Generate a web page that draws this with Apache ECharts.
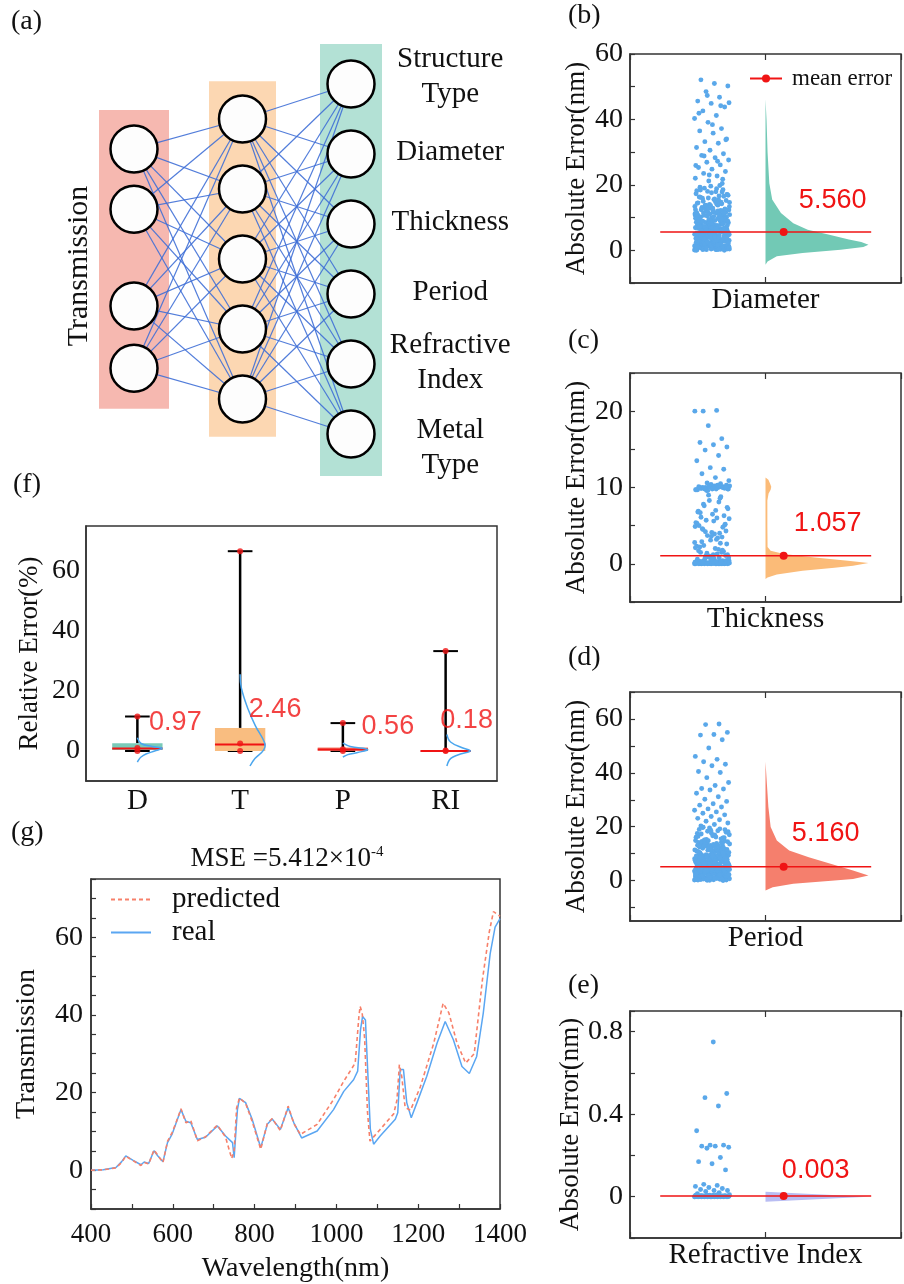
<!DOCTYPE html>
<html>
<head>
<meta charset="utf-8">
<script src="https://cdn.jsdelivr.net/npm/echarts@6/dist/echarts.min.js"></script>
<style>html,body{margin:0;padding:0;background:#fff}#main{width:904px;height:1284px}</style>
</head>
<body>
<div id="main"></div>
<script>
// ---------- data ----------
// (a) network layout, in layer / slot units
const inputSlots = [0.93, 1.79, 3.17, 4.06];
const hiddenSlots = [0.5, 1.5, 2.5, 3.5, 4.5];
const outputSlots = [0, 1, 2, 3, 4, 5];
const outputNames = ['Structure\nType', 'Diameter', 'Thickness', 'Period', 'Refractive\nIndex', 'Metal\nType'];
const layerBands = [[0.37, 4.64], [-0.04, 5.04], [-0.57, 5.6]];

// (b)-(e) absolute errors
const diameterErr = [
0.1,0.3,0.2,0.6,0.4,0.9,0.7,1.2,0.5,1.5,0.8,1.1,1.8,0.2,2.1,1.4,0.9,2.4,1.7,0.3,2.7,1.0,2.0,0.6,2.9,1.3,0.1,2.2,1.6,0.4,2.6,1.9,0.7,2.3,1.1,2.8,0.5,1.4,2.5,0.8,1.8,0.2,2.0,1.2,2.7,0.9,1.5,2.4,0.3,1.7,2.9,0.6,1.0,2.2,1.3,0.4,2.6,1.9,0.0,1.6,
3.1,4.5,3.6,5.8,4.0,6.4,3.3,5.1,6.9,4.2,3.8,5.5,6.1,4.8,3.0,6.7,5.3,4.4,3.5,5.9,6.3,4.7,3.2,5.0,6.6,4.1,3.9,5.6,6.0,4.9,3.4,5.2,6.8,4.3,3.7,5.7,6.2,4.6,3.1,5.4,6.5,4.0,3.6,5.8,6.9,4.8,3.3,5.1,6.4,4.5,3.0,5.5,6.1,4.2,3.8,5.3,6.7,4.4,3.5,5.0,
7.2,9.5,8.1,10.8,7.6,11.4,8.8,9.9,7.0,10.3,11.9,8.4,9.1,7.8,10.6,11.1,8.6,9.7,7.3,10.1,11.6,8.2,9.3,7.5,10.9,11.3,8.9,9.6,7.1,10.4,11.8,8.5,9.0,7.7,10.2,11.0,8.3,9.8,7.4,10.7,11.5,8.7,9.4,7.9,10.5,
12.3,14.8,13.1,16.5,12.8,18.2,15.4,13.7,17.1,12.1,19.3,14.2,16.0,13.4,18.8,15.0,12.6,17.6,14.5,19.8,13.0,16.8,15.7,12.4,18.5,14.0,17.3,13.8,19.0,15.2,12.9,16.3,14.7,18.0,13.3,17.9,15.9,12.2,19.6,14.4,16.6,13.6,17.0,15.5,18.4,
20.4,21.2,22.0,22.7,23.5,24.1,24.8,25.3,26.1,26.9,27.6,28.3,29.0,29.5,30.6,31.4,32.7,33.2,34.0,35.8,36.5,37.2,39.1,40.3,41.2,42.6,43.8,44.9,45.6,46.8,48.5,50.2,51.0,52.1,21.7,23.0,25.9,27.2,28.8,33.8,38.4,41.9,44.2,47.3,45.1,
0.4,1.7,3.3,5.2,7.4,9.8,12.6,0.9,2.2,4.1,6.3,8.5,11.2,14.1,1.3,2.8,4.9,6.8,9.1,13.3,0.6,2.5,3.8,5.7,7.9,10.4,12.0,1.9,3.5,5.4,7.1,8.8,11.7,14.6,0.2,2.0,4.4,6.0,8.2,10.9,13.8,1.5,3.0,4.7,6.5,9.4,12.4,0.8,2.4,4.0,
5.9,7.7,10.1,13.0,1.1,2.7,4.6,6.2,8.9,11.5,0.3,1.8,3.6,5.5,7.3,9.6,12.9,1.4,3.1,5.0,6.7,8.3,10.7,14.3,0.7,2.3,4.3,6.1,8.0,11.0,0.0,1.6,3.4,5.3,7.0,9.2,12.2,2.6,4.8,6.6,8.7,11.4,13.6,1.0,3.9,5.8,7.6,10.3,16.2,17.8
];
const thicknessErr = [
0.0,0.1,0.05,0.2,0.0,0.15,0.3,0.1,0.0,0.25,0.05,0.4,0.1,0.0,0.2,0.35,0.05,0.15,0.0,0.3,0.1,0.45,0.0,0.2,0.05,0.1,0.25,0.0,0.15,0.4,0.05,0.3,0.0,0.1,0.2,0.0,0.35,0.15,0.05,0.25,0.0,0.1,0.45,0.2,0.0,0.3,0.05,0.15,0.1,0.0,0.4,0.2,0.05,0.25,0.0,0.1,0.3,0.15,0.0,0.35,
0.6,0.8,1.0,1.2,0.7,1.5,1.8,0.9,2.1,1.3,2.4,1.1,0.6,1.7,2.7,1.4,0.8,2.0,2.9,1.6,1.0,2.3,1.9,0.7,2.6,1.2,2.2,1.5,0.9,2.8,
3.2,4.5,5.1,3.6,6.8,4.0,5.7,7.2,3.9,6.1,4.8,8.3,5.4,3.4,7.6,4.3,6.5,5.0,8.8,3.7,5.9,7.0,4.6,6.3,3.1,5.3,8.1,4.2,7.4,5.6,6.7,3.5,9.0,4.9,6.0,7.8,5.2,4.1,6.9,8.6,
9.6,9.8,10.0,9.9,10.1,10.2,9.7,10.0,9.8,10.3,9.9,10.0,10.1,9.6,10.2,9.8,10.0,9.9,10.4,9.7,10.1,10.0,9.8,10.2,9.9,10.0,10.1,9.7,10.3,9.9,10.0,9.8,10.1,10.5,10.6,
10.9,11.3,11.8,12.4,12.6,13.5,14.2,14.9,15.3,15.6,15.9,16.4,18.1,20.0,20.1,20.0
];
const periodErr = [
0.2,2.4,4.1,1.1,3.6,0.7,2.9,4.7,1.5,3.2,0.4,2.1,4.4,1.8,3.9,0.9,2.6,4.9,1.3,3.4,0.1,2.2,4.3,1.7,3.7,0.6,2.8,4.6,1.0,3.1,0.3,2.5,4.0,1.4,3.8,0.8,2.0,4.8,1.6,3.3,
0.5,2.7,4.2,1.2,3.5,0.0,2.3,4.5,1.9,3.0,0.2,2.6,4.1,1.1,3.7,0.7,2.9,4.6,1.5,3.3,0.4,2.0,4.4,1.8,3.9,0.9,2.4,4.8,1.3,3.5,0.6,2.8,4.2,1.0,3.1,0.3,2.2,4.7,1.6,3.6,
5.2,7.8,9.4,6.1,8.6,5.7,9.9,6.9,7.3,8.1,5.4,9.1,6.5,7.6,8.9,5.9,9.6,6.3,7.1,8.4,5.1,9.3,6.7,7.9,8.2,5.6,9.8,6.0,7.4,8.7,
5.3,9.0,6.4,7.7,8.0,5.8,9.5,6.8,7.2,8.5,5.5,9.2,6.2,7.5,8.8,5.0,9.7,6.6,7.0,8.3,5.2,9.4,6.9,7.8,8.6,5.7,9.1,6.1,7.3,8.9,
10.2,12.5,14.1,11.3,13.6,10.8,12.0,14.7,11.7,13.1,10.5,12.8,14.4,11.0,13.9,10.1,12.2,14.9,11.5,13.3,10.7,12.6,14.2,11.9,13.7,10.4,12.4,14.5,11.2,13.0,10.9,12.9,14.0,11.6,13.4,10.3,12.1,14.8,11.4,13.8,
19.8,18.9,17.6,16.4,19.2,15.3,18.1,16.9,17.3,15.8,19.5,16.1,18.5,15.1,17.9,16.6,19.0,15.5,18.3,17.0,16.2,19.7,15.9,18.7,17.5,
58.1,57.9,55.0,54.2,54.0,52.3,49.2,46.1,45.0,44.1,43.2,42.6,40.5,40.1,38.2,36.4,35.3,34.2,34.0,33.6,32.4,31.1,30.2,29.4,28.5,28.0,27.3,26.6,26.1,25.5,25.0,24.4,23.8,23.1,22.6,22.0,21.4,20.8,20.3,
0.3,1.6,3.2,4.9,6.6,8.4,10.6,0.8,2.3,3.9,5.6,7.3,9.1,11.8,1.2,2.8,4.4,6.0,7.9,9.9,13.1,0.5,2.0,3.6,5.2,6.9,8.7,10.9,1.5,3.0,4.7,6.3,8.1,9.6,12.4,0.1,1.8,3.4,5.0,6.7,8.5,10.2,0.9,2.5,4.1,5.8,7.5,9.3,11.4,1.3,
2.9,4.6,6.2,7.7,9.0,13.6,0.6,2.2,3.8,5.5,7.1,8.9,10.7,1.0,2.6,4.3,5.9,7.6,9.5,12.0,0.4,1.9,3.5,5.1,6.8,8.2,11.1,1.7,3.3,4.8,6.4,8.0,9.8,0.2,2.1,3.7,5.4,7.2,8.6,10.4,1.1,2.7,4.5,6.1,7.4,9.2,12.8
];
const riErr = [
0.000,0.002,0.001,0.004,0.000,0.003,0.006,0.001,0.002,0.000,0.005,0.003,0.001,0.008,0.000,0.002,0.004,0.001,0.003,0.000,0.007,0.002,0.001,0.005,0.000,0.003,0.002,0.001,0.004,0.000,
0.006,0.002,0.001,0.003,0.000,0.009,0.002,0.004,0.001,0.000,0.003,0.005,0.001,0.002,0.000,0.004,0.007,0.001,0.003,0.000,0.002,0.006,0.001,0.004,0.000,0.010,0.003,0.001,0.002,0.000,
0.015,0.02,0.025,0.03,0.03,0.035,0.04,0.045,0.05,0.055,0.06,0.13,0.16,0.17,0.19,0.235,0.24,0.245,0.245,0.25,0.25,0.32,0.44,0.48,0.50,0.75
];
const meanErr = [5.560, 1.057, 5.160, 0.003];

// half-violin outlines: error level -> relative density
const diamViolinY = [-4.4,-3.4,-1.8,-0.8,0.2,1.0,1.7,2.5,3.3,4.8,6.3,8.3,11.4,15.5,20.5,30,40,46.2];
const diamViolinW = [0,0.02,0.11,0.36,0.73,0.95,1.0,0.93,0.81,0.61,0.41,0.27,0.15,0.065,0.037,0.02,0.01,0];
const thickViolinY = [-2.0,-1.8,-1.4,-0.9,-0.5,-0.26,0.1,0.4,0.84,1.3,1.7,2.2,5,8.3,9.2,9.7,10.1,10.5,11.0,11.3];
const thickViolinW = [0,0.02,0.11,0.36,0.67,0.85,1.0,0.8,0.48,0.18,0.05,0.02,0.018,0.018,0.03,0.05,0.056,0.045,0.028,0];
const periodViolinY = [-3.7,-2.5,-1.2,0,0.6,1.9,3.7,6.2,8.7,11.2,14.9,19.9,27.3,35,44.1];
const periodViolinW = [0,0.07,0.27,0.67,0.85,1.0,0.85,0.64,0.42,0.23,0.11,0.05,0.028,0.015,0];
const riViolinY = [-0.024,-0.012,0,0.012,0.024];
const riViolinW = [0,0.5,1,0.5,0];

// (f) relative error statistics
const fCats = ['D', 'T', 'P', 'RI'];
const fMin = [0, 0, 0, 0];
const fQ1 = [0.3, 0, 0.1, 0];
const fMed = [0.8, 2.2, 0.5, 0];
const fQ3 = [2.6, 7.7, 1.2, 0.1];
const fMax = [11.5, 66.6, 9.3, 33.3];
const fMean = [0.97, 2.46, 0.56, 0.18];
const fDensY = [[4.4,2.5,1.5,0.9,0,-1,-2,-3,-3.7], [25.6,21,14,8.4,2.6,0.3,-2.5,-5], [2.6,1.5,0.5,-0.5,-1.2,-2], [5.5,3,1,0,-1,-2,-3,-5]];
const fDensW = [[0,0.15,0.6,1,0.7,0.35,0.15,0.05,0], [0,0.05,0.32,0.62,1,0.95,0.6,0.4], [0,0.3,1,0.6,0.2,0], [0.05,0.2,0.7,1,0.6,0.3,0.15,0.05]];

// (g) spectra
const realWl = [400,430,461,475,485,502,522,530,541,554,563,576,587,598,607,620,632,644,660,680,709,729,746,750,758,763,778,794,815,831,843,863,882,896,915,953,993,1018,1042,1052,1059,1064,1071,1075,1083,1091,1107,1144,1150,1156,1164,1172,1183,1197,1221,1246,1266,1286,1307,1325,1343,1359,1376,1388,1400];
const realT = [0,0.1,0.7,2.2,3.7,2.6,1.4,2.1,1.7,5.0,3.7,2.2,7.1,9.2,11.8,15.6,12.6,12.2,7.9,8.5,11.4,8.8,7.1,3.2,15.6,18.5,17.4,13.1,5.8,11.8,13.2,10.5,16.1,12.2,8.3,10.1,15.6,20.3,23.3,25.5,36.2,39.6,38.7,29.3,10.5,6.7,8.8,13.1,14.8,25.9,25.9,17.4,13.5,17.4,24.2,32.7,38.3,33.6,26.7,24.9,29.3,40.4,55.8,62.6,64.8];
const predWl = [400,430,461,475,485,502,522,530,541,554,563,576,587,598,607,620,632,644,660,680,709,729,744,750,756,763,778,794,815,831,843,863,882,896,912,953,993,1018,1046,1055,1058,1063,1069,1076,1082,1107,1140,1148,1154,1160,1168,1181,1205,1238,1261,1275,1295,1316,1337,1357,1374,1384,1400];
const predT = [0,0.1,0.6,2.0,3.6,2.5,1.2,2.0,1.6,5.2,3.9,2.0,7.4,9.6,12.0,15.8,12.2,12.8,7.6,8.6,11.6,8.5,3.0,5.0,16.0,18.6,17.2,12.6,5.4,12.0,13.3,10.2,16.5,12.0,9.2,11.8,18.2,22.9,27.6,39.6,42.2,40.5,34.0,15.0,7.5,10.5,14.5,18.0,27.2,24.0,16.2,15.4,21.4,32.7,43.0,40.5,32.7,27.6,30.0,49.0,61.5,66.6,65.4];

// ---------- chart ----------
const SERIF = '"Liberation Serif", "Times New Roman", serif';
const SANS = '"Liberation Sans", Arial, sans-serif';
const INK = '#111';
const AXIS = '#333';
const RED = '#f01414';

const chart = echarts.init(document.getElementById('main'));

const grids = [
  {left: 25.5, top: 14, width: 434, height: 490},
  {left: 630, top: 54, width: 284, height: 229},
  {left: 630, top: 373, width: 284, height: 229},
  {left: 630, top: 692, width: 284, height: 229},
  {left: 630, top: 1011, width: 284, height: 227},
  {left: 86, top: 526, width: 411, height: 255},
  {left: 91, top: 879, width: 409, height: 330}
].map((g, i) => Object.assign({show: i > 0, borderColor: AXIS, borderWidth: 1.5}, g));

const tick = {inside: true, length: 5, lineStyle: {color: AXIS, width: 1.2}};
const line = {show: true, onZero: false, lineStyle: {color: AXIS, width: 1.5}};
const every = step => v => Math.abs(v / step - Math.round(v / step)) < 1e-6 ? String(Math.round(v * 1000) / 1000) : '';

const xAxis = [{gridIndex: 0, type: 'value', min: -1, max: 3, show: false}];
const yAxis = [{gridIndex: 0, type: 'value', min: -1, max: 6, inverse: true, show: false}];
const series = [];

// (a) network
const nodes = [];
const labelShift = [-5.5, 0, 0, 0, 0, 15];
inputSlots.forEach((s, i) => nodes.push({name: 'in' + i, value: [0, s]}));
hiddenSlots.forEach((s, i) => nodes.push({name: 'h' + i, value: [1, s]}));
outputSlots.forEach((s, i) => nodes.push({
  name: 'out' + i, value: [2, s],
  label: {show: true, formatter: outputNames[i], position: [124, 23.5 + labelShift[i]], align: 'center', verticalAlign: 'middle',
    fontSize: 29, lineHeight: 35, fontFamily: SERIF, color: INK}
}));
const links = [];
inputSlots.forEach((_, i) => hiddenSlots.forEach((_, j) => links.push({source: 'in' + i, target: 'h' + j})));
hiddenSlots.forEach((_, i) => outputSlots.forEach((_, j) => links.push({source: 'h' + i, target: 'out' + j})));

const bandColors = ['#f6b8b0', '#fcd7b2', '#b3e1d5'];
const bandWidths = [70, 67, 62];
series.push({
  type: 'custom', xAxisIndex: 0, yAxisIndex: 0, silent: true, z: 1,
  data: layerBands.map((b, i) => [i, b[0], b[1]]),
  encode: {x: 0, y: [1, 2]},
  renderItem: (p, api) => {
    const top = api.coord([api.value(0), api.value(1)]);
    const bot = api.coord([api.value(0), api.value(2)]);
    const w = bandWidths[p.dataIndex];
    return {type: 'rect', shape: {x: top[0] - w / 2, y: top[1], width: w, height: bot[1] - top[1]},
      style: {fill: bandColors[p.dataIndex]}};
  }
});
series.push({
  type: 'graph', coordinateSystem: 'cartesian2d', xAxisIndex: 0, yAxisIndex: 0, layout: 'none', silent: true, z: 3,
  symbol: 'circle', symbolSize: 47,
  itemStyle: {color: '#fdfdfd', borderColor: '#000', borderWidth: 2.5},
  lineStyle: {color: '#3f6fd6', width: 1.2, opacity: 0.9, curveness: 0},
  edgeSymbol: ['none', 'none'],
  data: nodes, links: links
});

// (b)-(e) strip + half violin panels
const STRIP_C = -0.394, STRIP_HW = 0.13, VIOLIN_W = 0.76;
const panels = [
  {vals: diameterErr, vy: diamViolinY, vw: diamViolinW, color: '#72c9b5', min: -10, max: 60, interval: 10, lab: 20, name: 'Diameter', off: [49, -32]},
  {vals: thicknessErr, vy: thickViolinY, vw: thickViolinW, color: '#fbbb78', min: -5, max: 25, interval: 5, lab: 10, name: 'Thickness', off: [44, -32]},
  {vals: periodErr, vy: periodViolinY, vw: periodViolinW, color: '#f57f6d', min: -15, max: 70, ticks: [-10, 0, 10, 20, 30, 40, 50, 60, 70], labs: [0, 20, 40, 60], name: 'Period', off: [42, -33]},
  {vals: riErr, vy: riViolinY, vw: riViolinW, color: '#b9bdf3', min: -0.2, max: 0.9, interval: 0.2, lab: 0.4, name: 'Refractive Index', off: [32, -26]}
];
panels.forEach((p, k) => {
  const gi = k + 1;
  const xi = xAxis.length;
  xAxis.push({gridIndex: gi, type: 'value', min: -1, max: 1, interval: 1, axisLine: line, axisTick: Object.assign({}, tick, {length: 6}),
    splitLine: {show: false},
    axisLabel: {margin: 3, fontSize: 29, fontFamily: SERIF, color: INK, formatter: v => v === 0 ? p.name : ''}});
  xAxis.push({gridIndex: gi, type: 'value', position: 'top', min: -1, max: 1, interval: 1, axisLine: {show: false, onZero: false},
    axisTick: Object.assign({}, tick, {length: 6}), axisLabel: {show: false}, splitLine: {show: false}});
  const yi = yAxis.length;
  const ya = {gridIndex: gi, type: 'value', min: p.min, max: p.max, axisLine: line, axisTick: Object.assign({}, tick),
    splitLine: {show: false},
    axisLabel: {margin: 7, fontSize: 28, fontFamily: SERIF, color: INK},
    name: 'Absolute Error(nm)', nameLocation: 'middle', nameRotate: 90, nameGap: 40,
    nameTextStyle: {fontSize: 27, fontFamily: SERIF, color: INK}};
  if (p.ticks) {
    ya.axisTick.customValues = p.ticks;
    ya.axisLabel.customValues = p.labs;
  } else {
    ya.interval = p.interval;
    ya.axisLabel.formatter = every(p.lab);
  }
  yAxis.push(ya);

  series.push({
    type: 'scatter', xAxisIndex: xi, yAxisIndex: yi, silent: true, z: 2,
    symbolSize: 4.9, itemStyle: {color: '#5aa8ea', opacity: 1},
    // index-based spread across the strip width (layout only)
    data: p.vals.map((v, i) => [STRIP_C + (((i * 0.618034) % 1) - 0.5) * 2 * STRIP_HW, v])
  });
  series.push({
    type: 'custom', xAxisIndex: xi, yAxisIndex: yi, silent: true, z: 3,
    data: [[0, p.vy[0]]],
    renderItem: (params, api) => {
      const pts = p.vy.map((y, i) => api.coord([p.vw[i] * VIOLIN_W, y]));
      pts.push(api.coord([0, p.vy[p.vy.length - 1]]), api.coord([0, p.vy[0]]));
      return {type: 'polygon', shape: {points: pts}, style: {fill: p.color}};
    }
  });
  const m = meanErr[k];
  series.push({
    type: 'line', name: k === 0 ? 'mean error' : 'mean error ' + k, xAxisIndex: xi, yAxisIndex: yi, silent: true, z: 5,
    symbol: 'circle', symbolSize: 8, itemStyle: {color: RED}, lineStyle: {color: RED, width: 1.5},
    data: [
      {value: [-0.777, m], symbol: 'none'},
      {value: [0.134, m], label: {show: true, position: 'inside', offset: p.off, formatter: m.toFixed(3),
        fontSize: 27, fontFamily: SANS, color: RED}},
      {value: [0.78, m], symbol: 'none'}
    ]
  });
});

// (f) relative error box plot
const fxi = xAxis.length;
xAxis.push({gridIndex: 5, type: 'category', data: fCats, axisLine: line,
  axisTick: {inside: true, alignWithLabel: true, length: 6, lineStyle: {color: AXIS, width: 1.2}},
  axisLabel: {margin: 6, fontSize: 29, fontFamily: SERIF, color: INK}});
xAxis.push({gridIndex: 5, type: 'category', position: 'top', data: fCats, axisLine: {show: false, onZero: false},
  axisTick: {inside: true, alignWithLabel: true, length: 6, lineStyle: {color: AXIS, width: 1.2}}, axisLabel: {show: false}});
const fyi = yAxis.length;
yAxis.push({gridIndex: 5, type: 'value', min: -10, max: 75, interval: 5, axisLine: line, axisTick: tick, splitLine: {show: false},
  axisLabel: {margin: 6, fontSize: 28, fontFamily: SERIF, color: INK, formatter: every(20)},
  name: 'Relative Error(%)', nameLocation: 'middle', nameRotate: 90, nameGap: 43,
  nameTextStyle: {fontSize: 27, fontFamily: SERIF, color: INK}});
yAxis.push({gridIndex: 5, type: 'value', position: 'right', min: -10, max: 75, interval: 5, axisLine: {show: false, onZero: false},
  axisTick: tick, axisLabel: {show: false}, splitLine: {show: false}});

const boxColors = ['#79cab8', '#f9bd80', '#f48270', '#bdbcf2'];
series.push({
  type: 'custom', xAxisIndex: fxi, yAxisIndex: fyi, silent: true, z: 2,
  data: fCats.map((c, i) => [i, fMin[i], fQ1[i], fMed[i], fQ3[i], fMax[i]]),
  encode: {x: 0, y: [1, 2, 3, 4, 5]},
  renderItem: (params, api) => {
    const c = api.value(0);
    const at = k => api.coord([c, api.value(k)]);
    const [x, yMin] = at(1);
    const yQ1 = at(2)[1], yMed = at(3)[1], yQ3 = at(4)[1], yMax = at(5)[1];
    const bw = api.size([1, 0])[0];
    const hb = bw * 0.245, hc = bw * 0.12;
    const black = {stroke: '#000', lineWidth: 2.5};
    return {type: 'group', children: [
      {type: 'line', shape: {x1: x, y1: yQ3, x2: x, y2: yMax}, style: black},
      {type: 'line', shape: {x1: x, y1: yQ1, x2: x, y2: yMin}, style: black},
      {type: 'line', shape: {x1: x - hc, y1: yMax, x2: x + hc, y2: yMax}, style: {stroke: '#000', lineWidth: 2}},
      {type: 'line', shape: {x1: x - hc, y1: yMin, x2: x + hc, y2: yMin}, style: {stroke: '#000', lineWidth: 2}},
      {type: 'rect', shape: {x: x - hb, y: yQ3, width: 2 * hb, height: Math.max(yQ1 - yQ3, 1)}, style: {fill: boxColors[params.dataIndex]}},
      {type: 'line', shape: {x1: x - hb, y1: yMed, x2: x + hb, y2: yMed}, style: {stroke: RED, lineWidth: 2}}
    ]};
  }
});
series.push({
  type: 'custom', xAxisIndex: fxi, yAxisIndex: fyi, silent: true, z: 3,
  data: fCats.map((c, i) => [i, fMed[i]]),
  renderItem: (params, api) => {
    const i = params.dataIndex;
    const bw = api.size([1, 0])[0];
    const pts = fDensY[i].map((y, j) => {
      const pt = api.coord([i, y]);
      return [pt[0] + fDensW[i][j] * bw * 0.24, pt[1]];
    });
    return {type: 'polyline', shape: {points: pts, smooth: 0.4}, style: {stroke: '#4aa6ee', lineWidth: 1.5, fill: null}};
  }
});
const fLabelOff = [[38, -26], [35, -34], [45, -23], [21, -30]];
series.push({
  type: 'scatter', xAxisIndex: fxi, yAxisIndex: fyi, silent: true, z: 4,
  symbolSize: 6, itemStyle: {color: RED},
  data: [].concat(
    fCats.map((c, i) => [i, fMax[i]]),
    fCats.map((c, i) => [i, fMin[i]]),
    fCats.map((c, i) => ({value: [i, fMean[i]], label: {show: true, position: 'inside', offset: fLabelOff[i],
      formatter: fMean[i].toFixed(2), fontSize: 27, fontFamily: SANS, color: RED}}))
  )
});

// (g) spectra
const gxi = xAxis.length;
xAxis.push({gridIndex: 6, type: 'value', min: 400, max: 1400, interval: 100, axisLine: line, axisTick: tick, splitLine: {show: false},
  axisLabel: {margin: 12, fontSize: 27, fontFamily: SERIF, color: INK, formatter: every(200)},
  name: 'Wavelength(nm)', nameLocation: 'middle', nameGap: 46,
  nameTextStyle: {fontSize: 28, fontFamily: SERIF, color: INK}});
const gyi = yAxis.length;
yAxis.push({gridIndex: 6, type: 'value', min: -10, max: 75, interval: 5, axisLine: line, axisTick: tick, splitLine: {show: false},
  axisLabel: {margin: 8, fontSize: 28, fontFamily: SERIF, color: INK, formatter: every(20)},
  name: 'Transmission', nameLocation: 'middle', nameRotate: 90, nameGap: 50,
  nameTextStyle: {fontSize: 28, fontFamily: SERIF, color: INK}});
series.push({
  type: 'line', name: 'real', xAxisIndex: gxi, yAxisIndex: gyi, symbol: 'none', silent: true, z: 3,
  lineStyle: {color: '#5aa6f2', width: 1.5}, itemStyle: {color: '#5aa6f2'},
  data: realWl.map((w, i) => [w, realT[i]])
});
series.push({
  type: 'line', name: 'predicted', xAxisIndex: gxi, yAxisIndex: gyi, symbol: 'none', silent: true, z: 4,
  lineStyle: {color: '#f7806a', width: 1.6, type: [4, 3]}, itemStyle: {color: '#f7806a'},
  data: predWl.map((w, i) => [w, predT[i]])
});

const panelLabel = (t, x, y) => ({type: 'text', left: x, top: y, style: {text: t, font: '28px ' + SERIF, fill: INK}});

chart.setOption({
  animation: false,
  backgroundColor: '#fff',
  title: {
    text: '{a|MSE =5.412×10}{s|-4}', left: 282, top: 840, textAlign: 'center',
    textStyle: {rich: {
      a: {fontSize: 27, fontWeight: 'normal', fontFamily: SERIF, color: INK},
      s: {fontSize: 15, fontWeight: 'normal', fontFamily: SERIF, color: INK, verticalAlign: 'top'}
    }}
  },
  legend: [
    {data: ['mean error'], left: 749, top: 67, padding: 0, itemWidth: 32, itemHeight: 10,
      textStyle: {fontSize: 23, fontFamily: SERIF, color: INK, padding: [0, 0, 0, 5]}, selectedMode: false},
    {data: ['predicted', 'real'], orient: 'vertical', left: 110, top: 885, padding: 0, itemWidth: 40, itemHeight: 14, itemGap: 4,
      itemStyle: {opacity: 0},
      textStyle: {fontSize: 29, fontFamily: SERIF, color: INK, padding: [0, 0, 0, 16]}, selectedMode: false}
  ],
  grid: grids,
  xAxis: xAxis,
  yAxis: yAxis,
  graphic: [
    panelLabel('(a)', 11, 8),
    panelLabel('(b)', 568, 2),
    panelLabel('(c)', 568, 327),
    panelLabel('(d)', 568, 644),
    panelLabel('(e)', 568, 972),
    panelLabel('(f)', 13, 471),
    panelLabel('(g)', 11, 819),
    {type: 'text', x: 79, y: 266, rotation: Math.PI / 2,
      style: {text: 'Transmission', font: '30px ' + SERIF, fill: INK, align: 'center', verticalAlign: 'middle'}},
    {type: 'text', x: 131, y: 262,
      style: {text: '×201', font: '27px ' + SERIF, fill: INK, align: 'center', verticalAlign: 'middle'}}
  ],
  series: series
});
</script>
</body>
</html>
